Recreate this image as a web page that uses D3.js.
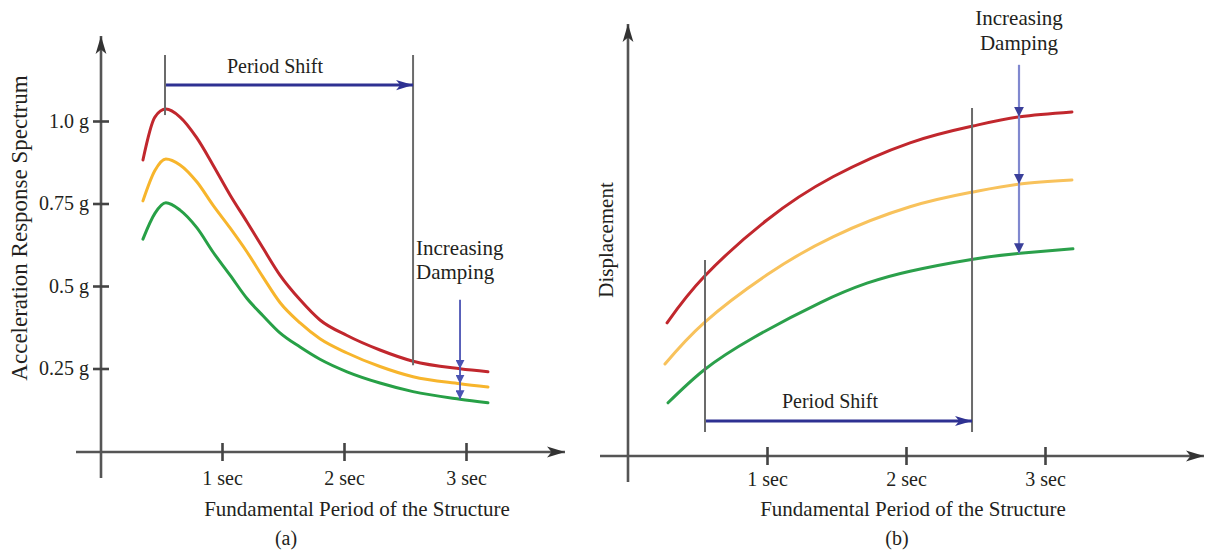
<!DOCTYPE html>
<html>
<head>
<meta charset="utf-8">
<script src="https://cdn.jsdelivr.net/npm/d3@7/dist/d3.min.js"></script>
<style>
  html, body { margin: 0; padding: 0; background: #fff; }
  svg { display: block; }
  text { font-family: "Liberation Serif", "Times New Roman", serif; fill: #231f20; }
</style>
</head>
<body>
<svg id="chart" width="1205" height="556"></svg>
<script>
// ---- Panel (a): acceleration response spectrum ----
const periodsA    = [0.352, 0.45, 0.54, 0.656, 0.795, 0.926, 1.066, 1.205, 1.336, 1.475, 1.64, 1.803, 2.025, 2.295, 2.566, 2.951, 3.18];
const accelRed    = [0.882, 1.012, 1.036, 1.012, 0.948, 0.867, 0.776, 0.694, 0.615, 0.533, 0.458, 0.397, 0.350, 0.306, 0.272, 0.249, 0.240];
const accelYellow = [0.758, 0.850, 0.885, 0.867, 0.815, 0.745, 0.676, 0.603, 0.527, 0.450, 0.388, 0.340, 0.297, 0.256, 0.225, 0.204, 0.194];
const accelGreen  = [0.642, 0.720, 0.752, 0.730, 0.676, 0.603, 0.533, 0.462, 0.410, 0.358, 0.315, 0.278, 0.240, 0.206, 0.180, 0.157, 0.146];
const accelTicks  = [0.25, 0.5, 0.75, 1.0];
const accelTickLabels = ["0.25 g", "0.5 g", "0.75 g", "1.0 g"];

// ---- Panel (b): displacement spectrum ----
const periodsRedB    = [0.281, 0.547, 1.0, 1.475, 2.029, 2.482, 2.82, 3.194];
const dispRed        = [0.333, 0.448, 0.590, 0.698, 0.783, 0.825, 0.848, 0.860];
const periodsYellowB = [0.266, 0.547, 1.0, 1.475, 2.029, 2.482, 2.82, 3.194];
const dispYellow     = [0.230, 0.333, 0.453, 0.548, 0.623, 0.660, 0.680, 0.690];
const periodsGreenB  = [0.288, 0.547, 0.899, 1.381, 1.719, 2.029, 2.482, 2.82, 3.201];
const dispGreen      = [0.133, 0.215, 0.295, 0.383, 0.432, 0.462, 0.492, 0.507, 0.518];

const periodTicks = [1, 2, 3];
const periodTickLabels = ["1 sec", "2 sec", "3 sec"];

// Annotation anchors (seconds / response units)
const shiftA = { from: 0.533, to: 2.566, arrowAt: 1.109, topAt: 1.2, fromBottom: 1.018, toBottom: 0.26 };
const dampA  = { at: 2.951, startAt: 0.458, stops: [0.249, 0.204, 0.157] };
const shiftB = { from: 0.554, to: 2.475, arrowAt: 0.0875, fromTop: 0.49, toTop: 0.87, bottomAt: 0.06 };
const dampB  = { at: 2.813, startAt: 0.978, stops: [0.848, 0.680, 0.507] };

const colors = {
  red: "#c1272d", yellowA: "#f7b52c", greenA: "#27a046",
  yellowB: "#f8c25c", greenB: "#2ba04b",
  axis: "#555", guide: "#6b6b6b", shift: "#2e3192", dampA: "#4a53b3", dampB: "#8088cf"
};

const svg = d3.select("#chart");

// scales
const xA = d3.scaleLinear().domain([0, 3]).range([100, 466]);
const yA = d3.scaleLinear().domain([0, 1]).range([451, 121]);
const xB = d3.scaleLinear().domain([0, 3]).range([628, 1045]);
const yB = d3.scaleLinear().domain([0, 1]).range([456, 56]);

// arrowhead markers
const defs = svg.append("defs");
function marker(id, color, w, h) {
  defs.append("marker")
    .attr("id", id).attr("viewBox", "0 0 20 12")
    .attr("refX", 20).attr("refY", 6)
    .attr("markerWidth", w).attr("markerHeight", h)
    .attr("markerUnits", "userSpaceOnUse")
    .attr("orient", "auto")
    .append("path").attr("d", "M0,0 L20,6 L0,12 L5,6 Z").attr("fill", color);
}
marker("axisHead", "#333", 18, 13);
marker("shiftHead", colors.shift, 17, 12);
defs.append("marker")
  .attr("id", "dampHeadA").attr("viewBox", "0 0 10 10")
  .attr("refX", 10).attr("refY", 5)
  .attr("markerWidth", 9).attr("markerHeight", 9)
  .attr("markerUnits", "userSpaceOnUse").attr("orient", "auto")
  .append("path").attr("d", "M0,0 L10,5 L0,10 Z").attr("fill", colors.dampA);
defs.append("marker")
  .attr("id", "dampHeadB").attr("viewBox", "0 0 10 10")
  .attr("refX", 10).attr("refY", 5)
  .attr("markerWidth", 10).attr("markerHeight", 10)
  .attr("markerUnits", "userSpaceOnUse").attr("orient", "auto")
  .append("path").attr("d", "M0,0 L10,5 L0,10 Z").attr("fill", "#3a3f9a");

function axisLines(g, x0, x1, yAxisX, y0, y1, baseY) {
  g.append("line").attr("x1", x0).attr("x2", x1).attr("y1", baseY).attr("y2", baseY)
    .attr("stroke", colors.axis).attr("stroke-width", 2.6).attr("marker-end", "url(#axisHead)");
  g.append("line").attr("x1", yAxisX).attr("x2", yAxisX).attr("y1", y0).attr("y2", y1)
    .attr("stroke", colors.axis).attr("stroke-width", 2.6).attr("marker-end", "url(#axisHead)");
}

function curve(g, xs, ys, xScale, yScale, color, width, interp) {
  const pts = xs.map((t, i) => [t, ys[i]]);
  g.append("path")
    .datum(pts)
    .attr("fill", "none").attr("stroke", color).attr("stroke-width", width)
    .attr("stroke-linecap", "round")
    .attr("d", d3.line().x(d => xScale(d[0])).y(d => yScale(d[1])).curve(interp));
}

function periodAxis(g, xScale, baseY, labelY) {
  const ax = g.append("g").attr("transform", `translate(0,${baseY})`)
    .call(d3.axisBottom(xScale).tickValues(periodTicks).tickFormat((d, i) => periodTickLabels[i]).tickSize(8));
  ax.select(".domain").remove();
  ax.selectAll(".tick line").attr("y1", -9).attr("y2", 9).attr("stroke", "#444").attr("stroke-width", 2.6);
  ax.selectAll(".tick text").attr("y", labelY - baseY).attr("dy", null)
    .attr("font-size", 20).attr("font-family", "Liberation Serif, serif").attr("fill", "#231f20");
}

// ================= Panel (a) =================
const gA = svg.append("g");
axisLines(gA, 76, 565, 101, 478, 36, 452);
periodAxis(gA, xA, 452, 485);

const yAx = gA.append("g").attr("transform", "translate(101,0)")
  .call(d3.axisLeft(yA).tickValues(accelTicks).tickFormat((d, i) => accelTickLabels[i]).tickSize(8));
yAx.select(".domain").remove();
yAx.selectAll(".tick line").attr("x1", -8).attr("x2", 8).attr("stroke", "#444").attr("stroke-width", 2.6);
yAx.selectAll(".tick text").attr("x", -12).attr("dy", "0.32em")
  .attr("font-size", 20).attr("font-family", "Liberation Serif, serif").attr("fill", "#231f20");

curve(gA, periodsA, accelRed, xA, yA, colors.red, 3, d3.curveMonotoneX);
curve(gA, periodsA, accelYellow, xA, yA, colors.yellowA, 3, d3.curveMonotoneX);
curve(gA, periodsA, accelGreen, xA, yA, colors.greenA, 3, d3.curveMonotoneX);

// period shift (a)
gA.append("line").attr("x1", xA(shiftA.from)).attr("x2", xA(shiftA.from))
  .attr("y1", yA(shiftA.topAt)).attr("y2", yA(shiftA.fromBottom))
  .attr("stroke", colors.guide).attr("stroke-width", 2);
gA.append("line").attr("x1", xA(shiftA.to)).attr("x2", xA(shiftA.to))
  .attr("y1", yA(shiftA.topAt)).attr("y2", yA(shiftA.toBottom))
  .attr("stroke", colors.guide).attr("stroke-width", 2);
gA.append("line").attr("x1", xA(shiftA.from) + 1).attr("x2", xA(shiftA.to))
  .attr("y1", yA(shiftA.arrowAt)).attr("y2", yA(shiftA.arrowAt))
  .attr("stroke", colors.shift).attr("stroke-width", 3).attr("marker-end", "url(#shiftHead)");
gA.append("text").attr("x", 275).attr("y", 73).attr("text-anchor", "middle")
  .attr("font-size", 20).text("Period Shift");

// increasing damping (a)
let prevA = dampA.startAt;
dampA.stops.forEach(v => {
  gA.append("line").attr("x1", xA(dampA.at)).attr("x2", xA(dampA.at))
    .attr("y1", yA(prevA)).attr("y2", yA(v))
    .attr("stroke", colors.dampA).attr("stroke-width", 1.8).attr("marker-end", "url(#dampHeadA)");
  prevA = v;
});
gA.append("text").attr("x", 416).attr("y", 255).attr("font-size", 21).text("Increasing");
gA.append("text").attr("x", 416).attr("y", 279).attr("font-size", 21).text("Damping");

gA.append("text").attr("transform", "translate(27,228) rotate(-90)").attr("text-anchor", "middle")
  .attr("font-size", 23).text("Acceleration Response Spectrum");
gA.append("text").attr("x", 357).attr("y", 516).attr("text-anchor", "middle")
  .attr("font-size", 21).text("Fundamental Period of the Structure");
gA.append("text").attr("x", 286).attr("y", 545).attr("text-anchor", "middle")
  .attr("font-size", 20).text("(a)");

// ================= Panel (b) =================
const gB = svg.append("g");
axisLines(gB, 600, 1204, 628, 482, 24, 456);
periodAxis(gB, xB, 456, 486);

curve(gB, periodsRedB, dispRed, xB, yB, colors.red, 3, d3.curveNatural);
curve(gB, periodsYellowB, dispYellow, xB, yB, colors.yellowB, 3, d3.curveNatural);
curve(gB, periodsGreenB, dispGreen, xB, yB, colors.greenB, 3, d3.curveNatural);

// period shift (b)
gB.append("line").attr("x1", xB(shiftB.from)).attr("x2", xB(shiftB.from))
  .attr("y1", yB(shiftB.fromTop)).attr("y2", yB(shiftB.bottomAt))
  .attr("stroke", colors.guide).attr("stroke-width", 2);
gB.append("line").attr("x1", xB(shiftB.to)).attr("x2", xB(shiftB.to))
  .attr("y1", yB(shiftB.toTop)).attr("y2", yB(shiftB.bottomAt))
  .attr("stroke", colors.guide).attr("stroke-width", 2);
gB.append("line").attr("x1", xB(shiftB.from) + 1).attr("x2", xB(shiftB.to))
  .attr("y1", yB(shiftB.arrowAt)).attr("y2", yB(shiftB.arrowAt))
  .attr("stroke", colors.shift).attr("stroke-width", 3).attr("marker-end", "url(#shiftHead)");
gB.append("text").attr("x", 830).attr("y", 408).attr("text-anchor", "middle")
  .attr("font-size", 20).text("Period Shift");

// increasing damping (b)
let prevB = dampB.startAt;
dampB.stops.forEach(v => {
  gB.append("line").attr("x1", xB(dampB.at)).attr("x2", xB(dampB.at))
    .attr("y1", yB(prevB)).attr("y2", yB(v))
    .attr("stroke", colors.dampB).attr("stroke-width", 2.2).attr("marker-end", "url(#dampHeadB)");
  prevB = v;
});
gB.append("text").attr("x", 1019).attr("y", 25).attr("text-anchor", "middle").attr("font-size", 21).text("Increasing");
gB.append("text").attr("x", 1019).attr("y", 50).attr("text-anchor", "middle").attr("font-size", 21).text("Damping");

gB.append("text").attr("transform", "translate(613,240) rotate(-90)").attr("text-anchor", "middle")
  .attr("font-size", 21).text("Displacement");
gB.append("text").attr("x", 913).attr("y", 516).attr("text-anchor", "middle")
  .attr("font-size", 21).text("Fundamental Period of the Structure");
gB.append("text").attr("x", 897).attr("y", 545).attr("text-anchor", "middle")
  .attr("font-size", 20).text("(b)");
</script>
</body>
</html>
